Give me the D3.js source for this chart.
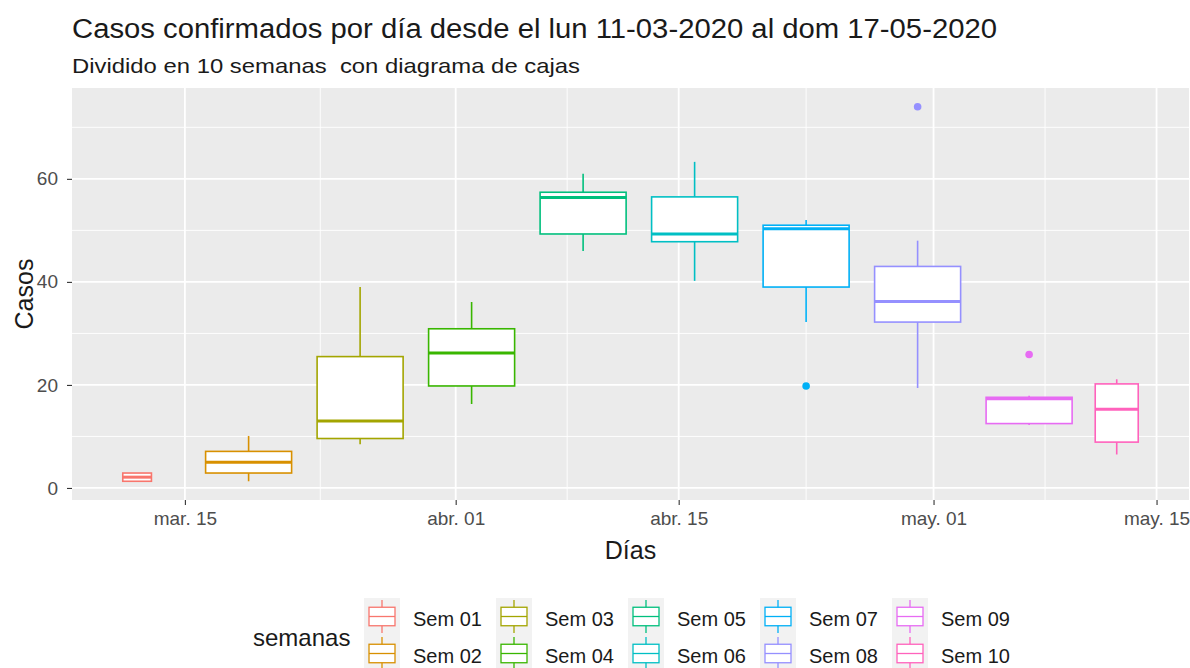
<!DOCTYPE html>
<html>
<head>
<meta charset="utf-8">
<script src="https://cdn.jsdelivr.net/npm/d3@7"></script>
<style>
  body { margin: 0; background: #fff; }
  svg { font-family: "Liberation Sans", Arial, sans-serif; }
</style>
</head>
<body>
<script>
// casos por semana - boxplot

var weeks = ["Sem 01", "Sem 02", "Sem 03", "Sem 04", "Sem 05", "Sem 06", "Sem 07", "Sem 08", "Sem 09", "Sem 10"];
var firstDay = ["2020-03-11", "2020-03-16", "2020-03-23", "2020-03-30", "2020-04-06", "2020-04-13", "2020-04-20", "2020-04-27", "2020-05-04", "2020-05-11"];
var lastDay  = ["2020-03-13", "2020-03-22", "2020-03-29", "2020-04-05", "2020-04-12", "2020-04-19", "2020-04-26", "2020-05-03", "2020-05-10", "2020-05-14"];
var whiskerLow  = [1.3, 1.3, 8.5, 16.3, 46.0, 40.2, 32.2, 19.4, 12.2, 6.5];
var q1          = [1.3, 2.9, 9.6, 19.8, 49.3, 47.8, 39.0, 32.2, 12.5, 8.9];
var median      = [2.1, 5.0, 13.0, 26.2, 56.4, 49.3, 50.3, 36.2, 17.3, 15.3];
var q3          = [2.9, 7.1, 25.5, 30.9, 57.4, 56.5, 51.0, 43.0, 17.6, 20.2];
var whiskerHigh = [2.9, 10.1, 39.0, 36.1, 61.0, 63.3, 52.0, 48.0, 17.9, 21.1];
var outliers    = [[], [], [], [], [], [], [19.8], [74.0], [25.9], []];
var colors = ["#F8766D", "#D89000", "#A3A500", "#39B600", "#00BF7D", "#00BFC4", "#00B0F6", "#9590FF", "#E76BF3", "#FF62BC"];

var xTicks = ["2020-03-15", "2020-04-01", "2020-04-15", "2020-05-01", "2020-05-15"];
var xTickLabels = ["mar. 15", "abr. 01", "abr. 15", "may. 01", "may. 15"];
var yTicks = [0, 20, 40, 60];

var W = 1190, H = 668;
var panel = { left: 72, right: 1189, top: 88, bottom: 500 };

function parseDay(s) { var p = s.split("-"); return Date.UTC(+p[0], +p[1] - 1, +p[2]); }

var boxes = weeks.map(function(w, i) {
    var a = parseDay(firstDay[i]), b = parseDay(lastDay[i]);
    return {
        name: w, color: colors[i],
        center: (a + b) / 2, width: (b - a) * 0.9,
        lo: whiskerLow[i], q1: q1[i], med: median[i], q3: q3[i], hi: whiskerHigh[i],
        out: outliers[i]
    };
});

// ggplot style 5% expansion
var xmin = d3.min(boxes, function(d) { return d.center - d.width / 2 });
var xmax = d3.max(boxes, function(d) { return d.center + d.width / 2 });
var xpad = (xmax - xmin) * 0.05;
var ymin = d3.min(boxes, function(d) { return d3.min([d.lo].concat(d.out)) });
var ymax = d3.max(boxes, function(d) { return d3.max([d.hi].concat(d.out)) });
var ypad = (ymax - ymin) * 0.05;

var x = d3.scaleUtc().domain([new Date(xmin - xpad), new Date(xmax + xpad)]).range([panel.left, panel.right]);
var y = d3.scaleLinear().domain([ymin - ypad, ymax + ypad]).range([panel.bottom, panel.top]);

var svg = d3.select("body").append("svg").attr("width", W).attr("height", H);

// titles
svg.append("text").attr("x", 72).attr("y", 38)
    .attr("textLength", 925).attr("lengthAdjust", "spacingAndGlyphs")
    .style("font-size", "27px").style("fill", "#1a1a1a")
    .text("Casos confirmados por día desde el lun 11-03-2020 al dom 17-05-2020");
svg.append("text").attr("x", 72).attr("y", 73)
    .attr("textLength", 508).attr("lengthAdjust", "spacingAndGlyphs")
    .style("font-size", "21px").style("fill", "#1a1a1a").style("white-space", "pre")
    .text("Dividido en 10 semanas  con diagrama de cajas");

// panel
svg.append("rect")
    .attr("x", panel.left).attr("y", panel.top)
    .attr("width", panel.right - panel.left).attr("height", panel.bottom - panel.top)
    .style("fill", "#ebebeb");

var g = svg.append("g");

// grid
var xMajor = xTicks.map(function(s) { return parseDay(s) });
var xMinor = [];
for (var i = 0; i < xMajor.length - 1; i++) xMinor.push((xMajor[i] + xMajor[i + 1]) / 2);
var yMinor = [10, 30, 50, 70];

g.selectAll(".ygrid-minor").data(yMinor).enter().append("line")
    .attr("x1", panel.left).attr("x2", panel.right)
    .attr("y1", function(d) { return y(d) }).attr("y2", function(d) { return y(d) })
    .style("stroke", "#fff").style("stroke-width", 0.9);
g.selectAll(".xgrid-minor").data(xMinor).enter().append("line")
    .attr("y1", panel.top).attr("y2", panel.bottom)
    .attr("x1", function(d) { return x(d) }).attr("x2", function(d) { return x(d) })
    .style("stroke", "#fff").style("stroke-width", 0.9);
g.selectAll(".ygrid").data(yTicks).enter().append("line")
    .attr("x1", panel.left).attr("x2", panel.right)
    .attr("y1", function(d) { return y(d) }).attr("y2", function(d) { return y(d) })
    .style("stroke", "#fff").style("stroke-width", 1.8);
g.selectAll(".xgrid").data(xMajor).enter().append("line")
    .attr("y1", panel.top).attr("y2", panel.bottom)
    .attr("x1", function(d) { return x(d) }).attr("x2", function(d) { return x(d) })
    .style("stroke", "#fff").style("stroke-width", 1.8);

// ====== BOXES ======
var bg = svg.selectAll(".box").data(boxes).enter().append("g").attr("class", "box");

bg.append("line")
    .attr("x1", function(d) { return x(d.center) }).attr("x2", function(d) { return x(d.center) })
    .attr("y1", function(d) { return y(d.hi) }).attr("y2", function(d) { return y(d.q3) })
    .style("stroke", function(d) { return d.color }).style("stroke-width", 1.6);
bg.append("line")
    .attr("x1", function(d) { return x(d.center) }).attr("x2", function(d) { return x(d.center) })
    .attr("y1", function(d) { return y(d.q1) }).attr("y2", function(d) { return y(d.lo) })
    .style("stroke", function(d) { return d.color }).style("stroke-width", 1.6);
bg.append("rect")
    .attr("x", function(d) { return x(d.center - d.width / 2) })
    .attr("width", function(d) { return x(d.center + d.width / 2) - x(d.center - d.width / 2) })
    .attr("y", function(d) { return y(d.q3) })
    .attr("height", function(d) { return y(d.q1) - y(d.q3) })
    .style("fill", "#fff")
    .style("stroke", function(d) { return d.color }).style("stroke-width", 1.6);
bg.append("line")
    .attr("x1", function(d) { return x(d.center - d.width / 2) })
    .attr("x2", function(d) { return x(d.center + d.width / 2) })
    .attr("y1", function(d) { return y(d.med) }).attr("y2", function(d) { return y(d.med) })
    .style("stroke", function(d) { return d.color }).style("stroke-width", 3);
bg.selectAll(".out").data(function(d) { return d.out.map(function(v) { return { v: v, d: d } }) })
    .enter().append("circle")
    .attr("cx", function(o) { return x(o.d.center) })
    .attr("cy", function(o) { return y(o.v) })
    .attr("r", 3.8)
    .style("fill", function(o) { return o.d.color });

// ====== AXES ======
var yAxis = svg.append("g")
    .attr("transform", "translate(" + panel.left + ",0)")
    .call(d3.axisLeft(y).tickValues(yTicks).tickSize(5).tickPadding(9));
var xAxis = svg.append("g")
    .attr("transform", "translate(0," + panel.bottom + ")")
    .call(d3.axisBottom(x).tickValues(xMajor.map(function(d) { return new Date(d) }))
        .tickFormat(function(d, i) { return xTickLabels[i] }).tickSize(5).tickPadding(7));
[xAxis, yAxis].forEach(function(a) {
    a.select(".domain").remove();
    a.selectAll("line").style("stroke", "#333").style("stroke-width", 1.1);
    a.selectAll("text").style("fill", "#4d4d4d").style("font-size", "19px")
        .style("font-family", "'Liberation Sans', Arial, sans-serif");
});

svg.append("text").attr("x", (panel.left + panel.right) / 2).attr("y", 559)
    .attr("text-anchor", "middle").style("font-size", "25px").style("fill", "#1a1a1a")
    .text("Días");
svg.append("text")
    .attr("transform", "translate(33," + (panel.top + panel.bottom) / 2 + ") rotate(-90)")
    .attr("text-anchor", "middle").style("font-size", "25px").style("fill", "#1a1a1a")
    .text("Casos");

// ====== LEGEND ======
var keyW = 36, keyH = 37, colPitch = 132, legLeft = 364, legTop = 598;
svg.append("text").attr("x", 253).attr("y", 646)
    .style("font-size", "24px").style("fill", "#1a1a1a").text("semanas");

var items = svg.selectAll(".leg").data(boxes).enter().append("g")
    .attr("transform", function(d, i) {
        return "translate(" + (legLeft + Math.floor(i / 2) * colPitch) + "," + (legTop + (i % 2) * keyH) + ")";
    });
items.append("rect").attr("width", keyW).attr("height", keyH).style("fill", "#f2f2f2");
items.append("line")
    .attr("x1", keyW / 2).attr("x2", keyW / 2).attr("y1", 2).attr("y2", keyH - 2)
    .style("stroke", function(d) { return d.color }).style("stroke-width", 1.3);
items.append("rect")
    .attr("x", 5).attr("y", keyH * 0.25).attr("width", keyW - 10).attr("height", keyH * 0.5)
    .style("fill", "#fff").style("stroke", function(d) { return d.color }).style("stroke-width", 1.3);
items.append("line")
    .attr("x1", 5).attr("x2", keyW - 5).attr("y1", keyH / 2).attr("y2", keyH / 2)
    .style("stroke", function(d) { return d.color }).style("stroke-width", 1.3);
items.append("text").attr("x", keyW + 13).attr("y", keyH / 2 + 9.5)
    .style("font-size", "20px").style("fill", "#1a1a1a")
    .text(function(d) { return d.name });
</script>
</body>
</html>
